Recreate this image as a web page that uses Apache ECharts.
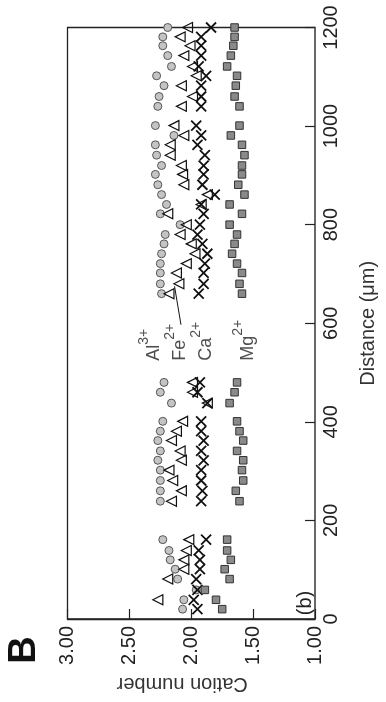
<!DOCTYPE html>
<html>
<head>
<meta charset="utf-8">
<title>Cation number profile</title>
<script src="https://cdn.jsdelivr.net/npm/echarts@6.0.0/dist/echarts.min.js"></script>
<style>
	html, body { margin: 0; padding: 0; background: #fff; }
	#cationChart { width: 386px; height: 702px; }
</style>
</head>
<body>
<div id="cationChart"></div>
<script>
/**Cation number along the profile (B)**/
// distance along the profile, μm
var distance = [20, 39, 59, 81, 101, 120, 139, 161,
	239, 260, 281, 302, 322, 341, 362, 381, 401, 438, 460, 480,
	660, 680, 702, 721, 741, 761, 780, 800, 822, 841,
	861, 881, 902, 920, 941, 962, 981, 1001, 1040, 1060, 1082, 1102, 1121, 1143, 1163, 1181, 1200];
// Al3+ (circles)
var al = [2.07, 2.06, 1.96, 2.11, 2.13, 2.17, 2.18, 2.23,
	2.25, 2.25, 2.25, 2.25, 2.27, 2.25, 2.27, 2.25, 2.23, 2.16, 2.25, 2.22,
	2.24, 2.25, 2.25, 2.25, 2.24, 2.22, 2.21, 2.09, 2.25, 2.20,
	2.24, 2.27, 2.29, 2.24, 2.28, 2.29, 2.14, 2.29, 2.27, 2.26, 2.22, 2.28, 2.16, 2.19, 2.23, 2.23, 2.19];
// Fe2+ (triangles)
var fe = [null, 2.27, null, 2.19, 2.06, 2.06, 2.04, 2.02,
	2.16, 2.08, 2.15, 2.18, 2.08, 2.09, 2.16, 2.12, 2.07, 1.87, 1.99, 1.99,
	2.18, 2.10, 2.12, 2.04, 1.97, 2.00, 2.09, 2.04, 2.19, 1.92,
	1.87, 2.06, 2.07, 2.08, 2.17, 2.17, 2.06, 2.14, 2.08, 1.99, 2.08, 1.96, 1.99, 2.06, 2.01, 2.09, 2.03];
// Ca2+ (crosses)
var ca = [1.95, 1.98, 1.95, 1.96, 1.93, 1.93, 1.94, 1.88,
	1.92, 1.91, 1.92, 1.92, 1.90, 1.92, 1.90, 1.92, 1.92, 1.87, 1.95, 1.93,
	1.94, 1.90, 1.90, 1.89, 1.87, 1.91, 1.95, 1.93, 1.90, 1.92,
	1.81, 1.91, 1.90, 1.90, 1.89, 1.95, 1.92, 1.96, 1.92, 1.92, 1.92, 1.88, 1.94, 1.92, 1.92, 1.92, 1.84];
// Mg2+ (squares)
var mg = [1.75, 1.80, 1.89, 1.69, 1.73, 1.68, 1.71, 1.71,
	1.61, 1.64, 1.58, 1.59, 1.58, 1.63, 1.58, 1.61, 1.63, 1.69, 1.65, 1.63,
	1.59, 1.61, 1.59, 1.63, 1.67, 1.65, 1.63, 1.69, 1.59, 1.69,
	1.57, 1.62, 1.59, 1.59, 1.57, 1.59, 1.68, 1.61, 1.61, 1.65, 1.64, 1.63, 1.71, 1.68, 1.66, 1.65, 1.65];
var ionNames = ['Al', 'Fe', 'Ca', 'Mg'];
var ionCharges = ['3+', '2+', '2+', '2+'];

var profileChart = {
	font: 'Liberation Sans, Arial, Helvetica, sans-serif',
	init: function() {
		this.chart();
	},
	// [cation, distance] pairs, skipping missing readings
	toPoints: function(values) {
		var points = [];
		for (var i = 0; i < distance.length; i++) {
			if (values[i] != null) {
				points.push([values[i], distance[i]]);
			}
		}
		return points;
	},
	chart: function() {
		var self = this;
		var chart = echarts.init(document.getElementById('cationChart'));
		// label anchors in data space (cation, distance)
		var labelAt = [[2.30, 524], [2.09, 524], [1.883, 524], [1.54, 524]];
		var labelData = [];
		for (var i = 0; i < ionNames.length; i++) {
			labelData.push({
				value: labelAt[i],
				name: ionNames[i],
				charge: ionCharges[i]
			});
		}
		var option = {
			animation: false,
			textStyle: {
				fontFamily: self.font
			},
			grid: {
				left: 67.5,
				right: 66,
				top: 27.5,
				bottom: 83,
				show: true,
				borderColor: '#222',
				borderWidth: 1.3,
				backgroundColor: 'transparent'
			},
			xAxis: {
				type: 'value',
				min: 1,
				max: 3,
				interval: 0.5,
				inverse: true,
				position: 'bottom',
				name: 'Cation number',
				nameLocation: 'middle',
				nameRotate: 180,
				nameGap: 55,
				nameTextStyle: {
					fontSize: 20,
					color: '#333',
					padding: [0, 0, 0, 18]
				},
				axisLine: {
					lineStyle: {
						color: '#222',
						width: 1.3
					}
				},
				axisTick: {
					inside: true,
					length: 10,
					lineStyle: {
						color: '#222',
						width: 1.2
					}
				},
				axisLabel: {
					rotate: 90,
					margin: 7,
					fontSize: 20,
					color: '#222',
					formatter: function(v) {
						return v.toFixed(2);
					}
				},
				splitLine: {
					show: false
				}
			},
			yAxis: {
				type: 'value',
				min: 0,
				max: 1200,
				interval: 200,
				position: 'right',
				name: 'Distance (μm)',
				nameLocation: 'middle',
				nameRotate: 90,
				nameGap: 43,
				nameTextStyle: {
					fontSize: 20,
					color: '#333'
				},
				axisLine: {
					lineStyle: {
						color: '#666',
						width: 1.6
					}
				},
				axisTick: {
					inside: true,
					length: 10,
					lineStyle: {
						color: '#222',
						width: 1.2
					}
				},
				axisLabel: {
					rotate: 90,
					margin: 6,
					fontSize: 20,
					color: '#222',
					formatter: function(v) {
						return String(v);
					}
				},
				splitLine: {
					show: false
				}
			},
			graphic: [{
				type: 'text',
				x: 25,
				y: 650,
				rotation: Math.PI / 2,
				style: {
					text: 'B',
					font: 'bold 38px ' + self.font,
					fill: '#111',
					align: 'center',
					verticalAlign: 'middle'
				}
			}, {
				type: 'text',
				x: 305,
				y: 603,
				rotation: Math.PI / 2,
				style: {
					text: '(b)',
					font: '20px ' + self.font,
					fill: '#222',
					align: 'center',
					verticalAlign: 'middle'
				}
			}],
			series: [{
				name: 'Al3+',
				type: 'scatter',
				symbol: 'circle',
				symbolSize: 8,
				itemStyle: {
					color: '#c4c4c4',
					borderColor: '#555',
					borderWidth: 1,
					opacity: 1
				},
				data: self.toPoints(al)
			}, {
				name: 'Fe2+',
				type: 'scatter',
				symbol: 'triangle',
				symbolRotate: 90,
				symbolSize: 10,
				itemStyle: {
					color: 'rgba(255,255,255,0)',
					borderColor: '#111',
					borderWidth: 1.2,
					opacity: 1
				},
				data: self.toPoints(fe)
			}, {
				name: 'Ca2+',
				type: 'scatter',
				symbol: 'path://M0,0L10,10M10,0L0,10',
				symbolSize: 10,
				itemStyle: {
					color: 'rgba(0,0,0,0)',
					borderColor: '#111',
					borderWidth: 1.8,
					opacity: 1
				},
				data: self.toPoints(ca)
			}, {
				name: 'Mg2+',
				type: 'scatter',
				symbol: 'rect',
				symbolSize: 7.5,
				itemStyle: {
					color: '#8a8a8a',
					borderColor: '#333',
					borderWidth: 1,
					opacity: 1
				},
				data: self.toPoints(mg)
			}, {
				name: 'labels',
				type: 'scatter',
				symbolSize: 0,
				silent: true,
				label: {
					show: true,
					position: 'inside',
					rotate: 90,
					align: 'left',
					verticalAlign: 'middle',
					formatter: function(p) {
						return '{n|' + p.data.name + '}{s|' + p.data.charge + '}';
					},
					rich: {
						n: {
							fontSize: 18,
							lineHeight: 34,
							color: '#222'
						},
						s: {
							fontSize: 14,
							lineHeight: 14,
							verticalAlign: 'top',
							color: '#222'
						}
					}
				},
				markLine: {
					silent: true,
					symbol: 'none',
					label: {
						show: false
					},
					lineStyle: {
						color: '#111',
						width: 1,
						type: 'solid'
					},
					data: [
						[{ coord: [2.083, 597] }, { coord: [2.135, 675] }]
					]
				},
				data: labelData
			}]
		};
		chart.setOption(option, true);
	}
};
window.onload = function() {
	profileChart.init();
};
</script>
</body>
</html>
